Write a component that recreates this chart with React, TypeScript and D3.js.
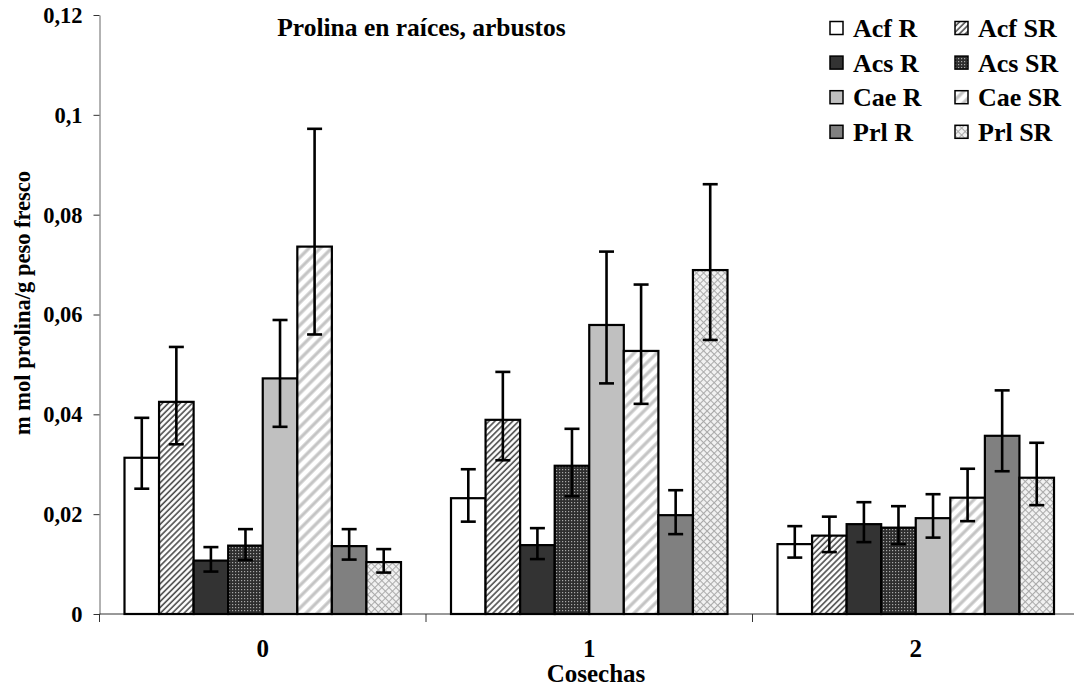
import React, { useEffect, useRef } from "react";
import * as d3 from "d3";

// Harvest categories
const cosechas = ["0", "1", "2"];

// Series (shrub species, with / without treatment)
const series = ["Acf R", "Acf SR", "Acs R", "Acs SR", "Cae R", "Cae SR", "Prl R", "Prl SR"];

// Mean proline per series, one value per harvest
const acfR = [0.0313, 0.0232, 0.014];
const acfSR = [0.0425, 0.0389, 0.0157];
const acsR = [0.0107, 0.0138, 0.018];
const acsSR = [0.0137, 0.0297, 0.0173];
const caeR = [0.0472, 0.0579, 0.0192];
const caeSR = [0.0736, 0.0527, 0.0233];
const prlR = [0.0136, 0.0198, 0.0357];
const prlSR = [0.0104, 0.0689, 0.0273];

// Error bar upper ends
const acfRHi = [0.0393, 0.029, 0.0176];
const acfSRHi = [0.0535, 0.0485, 0.0195];
const acsRHi = [0.0134, 0.0172, 0.0224];
const acsSRHi = [0.017, 0.0371, 0.0216];
const caeRHi = [0.0589, 0.0726, 0.024];
const caeSRHi = [0.0972, 0.066, 0.0291];
const prlRHi = [0.017, 0.0248, 0.0448];
const prlSRHi = [0.013, 0.0861, 0.0343];

// Error bar lower ends
const acfRLo = [0.0251, 0.0185, 0.0113];
const acfSRLo = [0.034, 0.0308, 0.0124];
const acsRLo = [0.0085, 0.011, 0.0144];
const acsSRLo = [0.0108, 0.0236, 0.014];
const caeRLo = [0.0375, 0.0462, 0.0153];
const caeSRLo = [0.056, 0.0421, 0.0186];
const prlRLo = [0.0109, 0.016, 0.0286];
const prlSRLo = [0.0083, 0.0549, 0.0218];

const yTicks = [0, 0.02, 0.04, 0.06, 0.08, 0.1, 0.12];

const values = [acfR, acfSR, acsR, acsSR, caeR, caeSR, prlR, prlSR];
const upper = [acfRHi, acfSRHi, acsRHi, acsSRHi, caeRHi, caeSRHi, prlRHi, prlSRHi];
const lower = [acfRLo, acfSRLo, acsRLo, acsSRLo, caeRLo, caeSRLo, prlRLo, prlSRLo];

const fills = [
  "#ffffff",
  "url(#pAcfSR)",
  "#333333",
  "url(#pAcsSR)",
  "#c0c0c0",
  "url(#pCaeSR)",
  "#808080",
  "url(#pPrlSR)",
];

const W = 1074;
const H = 687;
const FONT = "'Liberation Serif', 'Times New Roman', serif";

export default function App() {
  const ref = useRef<SVGSVGElement>(null);

  useEffect(() => {
    const svg = d3.select(ref.current);
    svg.selectAll("*").remove();

    const defs = svg.append("defs");
    // dense dark diagonal hatch
    const p1 = defs.append("pattern").attr("id", "pAcfSR").attr("patternUnits", "userSpaceOnUse")
      .attr("width", 4.2).attr("height", 4.2).attr("patternTransform", "rotate(45)");
    p1.append("rect").attr("width", 4.2).attr("height", 4.2).attr("fill", "#fff");
    p1.append("line").attr("x1", 1).attr("y1", 0).attr("x2", 1).attr("y2", 4.2)
      .attr("stroke", "#4a4a4a").attr("stroke-width", 1.6);
    // dark dotted grid
    const p2 = defs.append("pattern").attr("id", "pAcsSR").attr("patternUnits", "userSpaceOnUse")
      .attr("width", 3).attr("height", 3);
    p2.append("rect").attr("width", 3).attr("height", 3).attr("fill", "#2e2e2e");
    p2.append("rect").attr("x", 1).attr("y", 1).attr("width", 1.2).attr("height", 1.2).attr("fill", "#a8a8a8");
    // wide light diagonal hatch
    const p3 = defs.append("pattern").attr("id", "pCaeSR").attr("patternUnits", "userSpaceOnUse")
      .attr("width", 8).attr("height", 8).attr("patternTransform", "rotate(45)");
    p3.append("rect").attr("width", 8).attr("height", 8).attr("fill", "#fff");
    p3.append("line").attr("x1", 2).attr("y1", 0).attr("x2", 2).attr("y2", 8)
      .attr("stroke", "#c4c4c4").attr("stroke-width", 3.2);
    // light diamond crosshatch
    const p4 = defs.append("pattern").attr("id", "pPrlSR").attr("patternUnits", "userSpaceOnUse")
      .attr("width", 5).attr("height", 5).attr("patternTransform", "rotate(45)");
    p4.append("rect").attr("width", 5).attr("height", 5).attr("fill", "#f2f2f2");
    p4.append("line").attr("x1", 0).attr("y1", 0.5).attr("x2", 5).attr("y2", 0.5)
      .attr("stroke", "#aaaaaa").attr("stroke-width", 1.1);
    p4.append("line").attr("x1", 0.5).attr("y1", 0).attr("x2", 0.5).attr("y2", 5)
      .attr("stroke", "#aaaaaa").attr("stroke-width", 1.1);

    const plotL = 99.5;
    const plotR = 1079;
    const y = d3.scaleLinear().domain([0, 0.12]).range([614, 15]);
    const x0 = d3.scaleBand<string>().domain(cosechas).range([plotL, plotR]).paddingInner(0).paddingOuter(0);
    const gap = 25;
    const x1 = d3.scaleBand<string>().domain(series).range([gap, x0.bandwidth() - gap]).padding(0);

    // y axis
    const yAxis = d3.axisLeft(y).tickValues(yTicks).tickSize(6).tickSizeOuter(0)
      .tickFormat((d) => (d === 0 ? "0" : String(d).replace(".", ",")));
    const gy = svg.append("g").attr("transform", `translate(${plotL},0)`).call(yAxis);
    gy.select(".domain").attr("stroke", "#666").attr("stroke-width", 1);
    gy.selectAll(".tick line").attr("stroke", "#333");
    gy.selectAll(".tick text").attr("font-family", FONT).attr("font-weight", "bold")
      .attr("font-size", 22.5).attr("fill", "#000").attr("x", -17).attr("dy", "0.33em");

    // x axis with ticks at category boundaries
    svg.append("line").attr("x1", plotL).attr("x2", W).attr("y1", y(0)).attr("y2", y(0))
      .attr("stroke", "#333").attr("stroke-width", 1);
    cosechas.forEach((c) => {
      const bx = x0(c) as number;
      svg.append("line").attr("x1", bx).attr("x2", bx).attr("y1", y(0)).attr("y2", y(0) + 8)
        .attr("stroke", "#333").attr("stroke-width", 1);
      svg.append("text").attr("x", bx + x0.bandwidth() / 2).attr("y", 657)
        .attr("text-anchor", "middle").attr("font-family", FONT).attr("font-weight", "bold")
        .attr("font-size", 25).text(c);
    });

    // bars
    const g = svg.append("g");
    series.forEach((s, si) => {
      cosechas.forEach((c, ci) => {
        const v = values[si][ci];
        const bx = (x0(c) as number) + (x1(s) as number);
        g.append("rect").attr("x", bx).attr("y", y(v)).attr("width", x1.bandwidth())
          .attr("height", y(0) - y(v)).attr("fill", fills[si])
          .attr("stroke", "#000").attr("stroke-width", 2.2);
      });
    });
    // error bars
    series.forEach((s, si) => {
      cosechas.forEach((c, ci) => {
        const cx = (x0(c) as number) + (x1(s) as number) + x1.bandwidth() / 2;
        const hi = y(upper[si][ci]);
        const lo = y(lower[si][ci]);
        g.append("line").attr("x1", cx).attr("x2", cx).attr("y1", hi).attr("y2", lo)
          .attr("stroke", "#000").attr("stroke-width", 2.6);
        [hi, lo].forEach((yy) => {
          g.append("line").attr("x1", cx - 7.5).attr("x2", cx + 7.5).attr("y1", yy).attr("y2", yy)
            .attr("stroke", "#000").attr("stroke-width", 2.6);
        });
      });
    });

    // title
    svg.append("text").attr("x", 421.5).attr("y", 36).attr("text-anchor", "middle")
      .attr("font-family", FONT).attr("font-weight", "bold").attr("font-size", 25.5)
      .text("Prolina en raíces, arbustos");

    // axis titles
    svg.append("text").attr("x", 596).attr("y", 682).attr("text-anchor", "middle")
      .attr("font-family", FONT).attr("font-weight", "bold").attr("font-size", 25)
      .text("Cosechas");
    svg.append("text").attr("transform", "translate(30,303) rotate(-90)").attr("text-anchor", "middle")
      .attr("font-family", FONT).attr("font-weight", "bold").attr("font-size", 22.5)
      .text("m mol prolina/g peso fresco");

    // legend
    const leg = svg.append("g");
    series.forEach((s, si) => {
      const col = si % 2;
      const row = Math.floor(si / 2);
      const lx = col === 0 ? 830 : 955;
      const ly = 28 + row * 34.6;
      leg.append("rect").attr("x", lx).attr("y", ly - 6.5).attr("width", 13).attr("height", 13)
        .attr("fill", fills[si]).attr("stroke", "#000").attr("stroke-width", 1.5);
      leg.append("text").attr("x", lx + 23).attr("y", ly).attr("dy", "0.35em")
        .attr("font-family", FONT).attr("font-weight", "bold").attr("font-size", 26).text(s);
    });
  }, []);

  return (
    <svg ref={ref} width={W} height={H}
      style={{ position: "fixed", left: 0, top: 0, background: "#fff", display: "block" }} />
  );
}
